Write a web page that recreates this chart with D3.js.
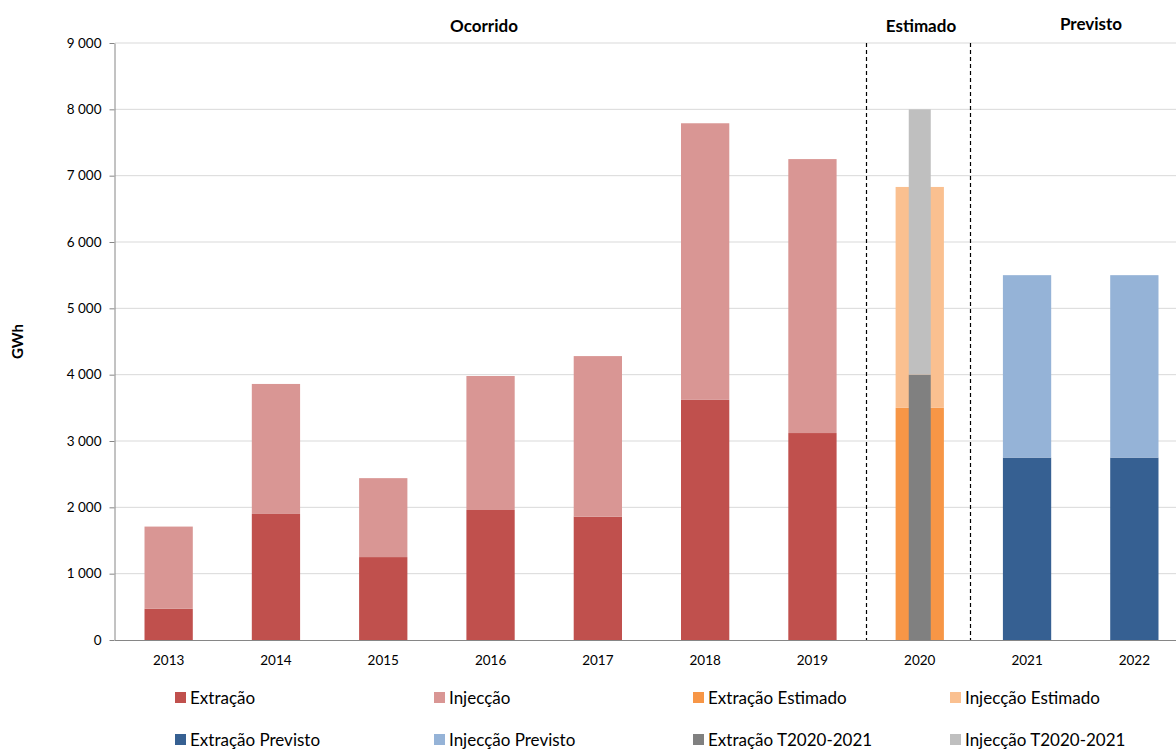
<!DOCTYPE html>
<html>
<head>
<meta charset="utf-8">
<script src="https://cdn.jsdelivr.net/npm/d3@7"></script>
<style>
  body { margin: 0; background: #fff; }
  svg { display: block; font-family: Lato, "Open Sans", sans-serif; }
</style>
</head>
<body>
<div id="chart"></div>
<script>
const years = ["2013", "2014", "2015", "2016", "2017", "2018", "2019", "2020", "2021", "2022"];
const yTicks = [0, 1000, 2000, 3000, 4000, 5000, 6000, 7000, 8000, 9000];

// Ocorrido
const extracao = [470, 1900, 1250, 1960, 1860, 3620, 3120, null, null, null];
const injeccao = [1240, 1960, 1190, 2020, 2420, 4170, 4130, null, null, null];
// Estimado
const extracaoEstimado = [null, null, null, null, null, null, null, 3500, null, null];
const injeccaoEstimado = [null, null, null, null, null, null, null, 3330, null, null];
// Previsto
const extracaoPrevisto = [null, null, null, null, null, null, null, null, 2750, 2750];
const injeccaoPrevisto = [null, null, null, null, null, null, null, null, 2750, 2750];
// T2020-2021
const extracaoT = [null, null, null, null, null, null, null, 4000, null, null];
const injeccaoT = [null, null, null, null, null, null, null, 4000, null, null];

const width = 1176;
const height = 749;
const margin = { left: 115, top: 43, bottom: 109 };

const svg = d3.select("#chart")
  .append("svg")
  .attr("width", width)
  .attr("height", height);

const x = d3.scaleBand()
  .domain(years)
  .range([margin.left, margin.left + 1073])
  .paddingInner(0)
  .paddingOuter(0);

const y = d3.scaleLinear()
  .domain([0, 9000])
  .range([height - margin.bottom, margin.top]);

// gridlines
svg.append("g")
  .selectAll("line")
  .data(yTicks.filter(d => d > 0))
  .enter()
  .append("line")
  .attr("x1", margin.left)
  .attr("x2", width)
  .attr("y1", d => y(d))
  .attr("y2", d => y(d))
  .attr("stroke", "#d9d9d9")
  .attr("stroke-width", 1);

// stacked series: extraction + injection, colours, width fraction
const groups = [
  { ex: extracao, inj: injeccao, c1: "#C0504D", c2: "#D99694", w: 0.45 },
  { ex: extracaoEstimado, inj: injeccaoEstimado, c1: "#F79646", c2: "#FAC090", w: 0.45 },
  { ex: extracaoPrevisto, inj: injeccaoPrevisto, c1: "#366092", c2: "#95B3D7", w: 0.45 },
  { ex: extracaoT, inj: injeccaoT, c1: "#808080", c2: "#BFBFBF", w: 0.205 }
];

groups.forEach(g => {
  const bw = x.bandwidth() * g.w;
  const rows = years.map((yr, i) => ({ yr, ex: g.ex[i], inj: g.inj[i] })).filter(d => d.ex != null);
  const gg = svg.append("g");
  gg.selectAll("rect.ex")
    .data(rows)
    .enter()
    .append("rect")
    .attr("x", d => x(d.yr) + (x.bandwidth() - bw) / 2)
    .attr("width", bw)
    .attr("y", d => y(d.ex))
    .attr("height", d => y(0) - y(d.ex))
    .attr("fill", g.c1);
  gg.selectAll("rect.inj")
    .data(rows)
    .enter()
    .append("rect")
    .attr("x", d => x(d.yr) + (x.bandwidth() - bw) / 2)
    .attr("width", bw)
    .attr("y", d => y(d.ex + d.inj))
    .attr("height", d => y(d.ex) - y(d.ex + d.inj))
    .attr("fill", g.c2);
});

// dashed separators
[x("2020"), x("2021") - 3].forEach(px => {
  svg.append("line")
    .attr("x1", Math.round(px) + 0.5)
    .attr("x2", Math.round(px) + 0.5)
    .attr("y1", y(9000))
    .attr("y2", y(0))
    .attr("stroke", "#000")
    .attr("stroke-width", 1.2)
    .attr("stroke-dasharray", "4,3");
});

// y axis
const fmt = d => d3.format(",")(d).replace(/,/g, " ");
const yAxis = svg.append("g")
  .attr("transform", `translate(${margin.left - 0.5},0)`)
  .call(d3.axisLeft(y).tickValues(yTicks).tickFormat(fmt).tickSize(5).tickPadding(8).tickSizeOuter(0));
yAxis.select(".domain").attr("stroke", "#868686");
yAxis.selectAll(".tick line").attr("stroke", "#868686");
yAxis.selectAll("text").attr("font-size", 13.5).attr("fill", "#000").attr("font-family", "Lato, sans-serif");

// x axis
const xAxis = svg.append("g")
  .attr("transform", `translate(0,${y(0) + 0.5})`)
  .call(d3.axisBottom(x).tickSize(0).tickPadding(15));
xAxis.select(".domain").attr("stroke", "#868686").attr("d", `M${margin.left},0H${width}`);
xAxis.selectAll("text").attr("font-size", 13.5).attr("fill", "#000").attr("font-family", "Lato, sans-serif");

// y label
svg.append("text")
  .attr("transform", `translate(23,${(y(0) + y(9000)) / 2}) rotate(-90)`)
  .attr("text-anchor", "middle")
  .attr("font-size", 15)
  .attr("font-weight", "bold")
  .text("GWh");

// period headers
const headers = [
  { label: "Ocorrido", cx: 484, cy: 32 },
  { label: "Estimado", cx: 921, cy: 32 },
  { label: "Previsto", cx: 1091, cy: 30 }
];
svg.selectAll("text.hdr")
  .data(headers)
  .enter()
  .append("text")
  .attr("x", d => d.cx)
  .attr("y", d => d.cy)
  .attr("text-anchor", "middle")
  .attr("font-size", 17)
  .attr("font-weight", "bold")
  .text(d => d.label);

// legend
const legendItems = [
  { label: "Extração", color: "#C0504D" },
  { label: "Injecção", color: "#D99694" },
  { label: "Extração Estimado", color: "#F79646" },
  { label: "Injecção Estimado", color: "#FAC090" },
  { label: "Extração Previsto", color: "#366092" },
  { label: "Injecção Previsto", color: "#95B3D7" },
  { label: "Extração T2020-2021", color: "#808080" },
  { label: "Injecção T2020-2021", color: "#BFBFBF" }
];
const colX = [175, 434, 693, 950];
const rowY = [698, 740];
const leg = svg.append("g")
  .selectAll("g")
  .data(legendItems)
  .enter()
  .append("g")
  .attr("transform", (d, i) => `translate(${colX[i % 4]},${rowY[Math.floor(i / 4)]})`);
leg.append("rect")
  .attr("x", 0)
  .attr("y", -6)
  .attr("width", 11)
  .attr("height", 11)
  .attr("fill", d => d.color);
leg.append("text")
  .attr("x", 15)
  .attr("y", 0)
  .attr("dy", "0.35em")
  .attr("font-size", 17)
  .attr("fill", "#000")
  .text(d => d.label);
</script>
</body>
</html>
